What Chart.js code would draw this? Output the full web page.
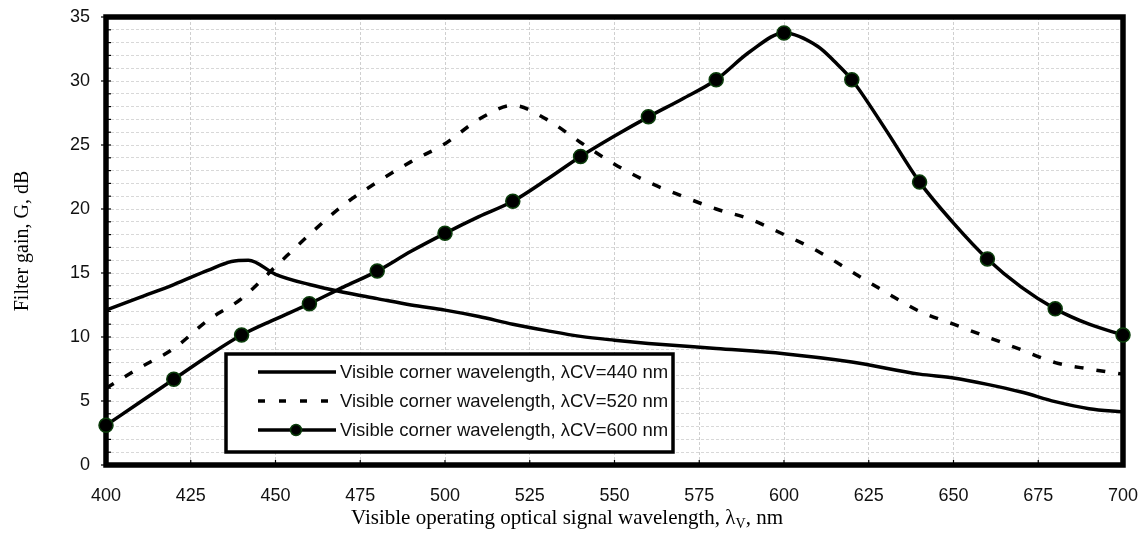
<!DOCTYPE html>
<html>
<head>
<meta charset="utf-8">
<title>Filter gain</title>
<script src="https://cdn.jsdelivr.net/npm/chart.js@4.4.0/dist/chart.umd.min.js"></script>
<style>
  html, body { margin: 0; padding: 0; background: #fff; }
  #wrap { width: 1144px; height: 547px; }
</style>
</head>
<body>
<div id="wrap"><canvas id="gain" width="1144" height="547"></canvas></div>
<script>
// wavelength axis ticks (nm) and gain axis labels (dB)
const xTicks = [400, 425, 450, 475, 500, 525, 550, 575, 600, 625, 650, 675, 700];
const yTickLabels = [0, 5, 10, 15, 20, 25, 30, 35];

// corner wavelength 440 nm
const nm440 = [400, 410, 420, 430, 437, 442, 450, 460, 470, 480, 490, 500, 510, 520, 530, 540, 550, 560, 580, 600, 620, 640, 650, 660, 670, 680, 690, 700];
const gain440 = [12.1, 13.1, 14.1, 15.2, 15.9, 16.0, 14.9, 14.1, 13.5, 13.0, 12.5, 12.1, 11.6, 11.0, 10.5, 10.05, 9.75, 9.5, 9.1, 8.7, 8.05, 7.1, 6.8, 6.3, 5.7, 4.95, 4.4, 4.15];

// corner wavelength 520 nm
const nm520 = [400, 410, 420, 430, 440, 450, 460, 470, 480, 490, 500, 510, 520, 530, 540, 550, 560, 570, 580, 590, 600, 610, 620, 630, 640, 650, 660, 670, 680, 690, 700];
const gain520 = [6.0, 7.6, 9.1, 11.3, 13.0, 15.5, 18.0, 20.3, 22.1, 23.7, 25.1, 27.0, 28.1, 27.0, 25.2, 23.5, 22.1, 21.0, 20.0, 19.2, 18.0, 16.7, 15.1, 13.5, 12.0, 11.0, 10.0, 9.0, 8.0, 7.5, 7.1];

// corner wavelength 600 nm (markers every 20 nm)
const nm600 = [400, 410, 420, 430, 440, 450, 460, 470, 480, 490, 500, 510, 520, 530, 540, 550, 560, 570, 580, 590, 600, 610, 615, 620, 630, 640, 650, 660, 670, 680, 690, 700];
const gain600 = [3.1, 4.9, 6.7, 8.5, 10.15, 11.4, 12.6, 13.9, 15.15, 16.7, 18.1, 19.4, 20.6, 22.3, 24.1, 25.7, 27.2, 28.6, 30.1, 32.3, 33.75, 32.7, 31.5, 30.1, 26.2, 22.1, 18.9, 16.1, 13.9, 12.2, 11.0, 10.15];

function pts(xs, ys) {
    return xs.map((x, i) => ({ x: x, y: ys[i] }));
}

const PLOT = { left: 106, top: 17, right: 1123, bottom: 465 };
const sans = "'Liberation Sans', Arial, sans-serif";
const serif = "'Liberation Serif', 'Times New Roman', serif";

// frame around the plot area plus the small ticks
const framePlugin = {
    id: "frame",
    beforeDatasetsDraw(chart) {
        const { ctx, chartArea: a, scales } = chart;
        ctx.save();
        ctx.strokeStyle = "#000";
        ctx.lineWidth = 1.2;
        for (let v = 1; v < 35; v++) {
            const y = scales.y.getPixelForValue(v);
            ctx.beginPath();
            ctx.moveTo(a.left, y);
            ctx.lineTo(a.left + 5, y);
            ctx.stroke();
        }
        xTicks.forEach(v => {
            const x = scales.x.getPixelForValue(v);
            ctx.beginPath();
            ctx.moveTo(x, a.bottom);
            ctx.lineTo(x, a.bottom - 5);
            ctx.stroke();
        });
        yTickLabels.forEach(v => {
            const y = scales.y.getPixelForValue(v);
            ctx.beginPath();
            ctx.moveTo(a.left - 5, y);
            ctx.lineTo(a.left, y);
            ctx.stroke();
        });
        ctx.lineWidth = 5.5;
        ctx.strokeRect(a.left, a.top, a.right - a.left, a.bottom - a.top);
        ctx.restore();
    }
};

// axis titles and the boxed legend
const annotatePlugin = {
    id: "annotate",
    afterDraw(chart) {
        const { ctx, chartArea: a } = chart;
        ctx.save();
        ctx.fillStyle = "#000";

        // x title with subscript V
        const parts = ["Visible operating optical signal wavelength, \u03bb", "V", ", nm"];
        ctx.font = "21px " + serif;
        const w0 = ctx.measureText(parts[0]).width;
        const w2 = ctx.measureText(parts[2]).width;
        ctx.font = "14px " + serif;
        const w1 = ctx.measureText(parts[1]).width;
        let x = 567 - (w0 + w1 + w2) / 2;
        const base = 524;
        ctx.textBaseline = "alphabetic";
        ctx.textAlign = "left";
        ctx.font = "21px " + serif;
        ctx.fillText(parts[0], x, base);
        x += w0;
        ctx.font = "14px " + serif;
        ctx.fillText(parts[1], x, base + 4);
        x += w1;
        ctx.font = "21px " + serif;
        ctx.fillText(parts[2], x, base);

        // y title
        ctx.save();
        ctx.translate(28, (a.top + a.bottom) / 2);
        ctx.rotate(-Math.PI / 2);
        ctx.textAlign = "center";
        ctx.font = "20px " + serif;
        ctx.fillText("Filter gain, G, dB", 0, 0);
        ctx.restore();

        // legend
        const box = { x: 226, y: 354, w: 447, h: 98 };
        ctx.fillStyle = "#fff";
        ctx.fillRect(box.x, box.y, box.w, box.h);
        ctx.strokeStyle = "#000";
        ctx.lineWidth = 3.5;
        ctx.strokeRect(box.x, box.y, box.w, box.h);

        ctx.font = "18.5px " + sans;
        ctx.textBaseline = "middle";
        chart.data.datasets.forEach((ds, i) => {
            const y = 372 + i * 29;
            ctx.save();
            ctx.strokeStyle = "#000";
            ctx.lineWidth = 3.5;
            ctx.setLineDash(ds.borderDash ? [7, 14] : []);
            ctx.beginPath();
            ctx.moveTo(258, y);
            ctx.lineTo(336, y);
            ctx.stroke();
            ctx.restore();
            if (ds.marker) {
                ctx.beginPath();
                ctx.arc(296, y, 5.5, 0, Math.PI * 2);
                ctx.fillStyle = "#000";
                ctx.fill();
                ctx.lineWidth = 1.5;
                ctx.strokeStyle = "#0b3d0b";
                ctx.stroke();
            }
            ctx.fillStyle = "#111";
            ctx.fillText(ds.label, 340, y + 1);
        });
        ctx.restore();
    }
};

const gridDash = [3, 2];

new Chart(document.getElementById("gain").getContext("2d"), {
    type: "line",
    data: {
        datasets: [
            {
                label: "Visible corner wavelength, \u03bbCV=440 nm",
                data: pts(nm440, gain440),
                borderColor: "#000",
                borderWidth: 3.5,
                pointRadius: 0,
                cubicInterpolationMode: "monotone",
                clip: false
            },
            {
                label: "Visible corner wavelength, \u03bbCV=520 nm",
                data: pts(nm520, gain520),
                borderColor: "#000",
                borderWidth: 3.5,
                borderDash: [9, 13],
                borderCapStyle: "butt",
                pointRadius: 0,
                cubicInterpolationMode: "monotone",
                clip: false
            },
            {
                label: "Visible corner wavelength, \u03bbCV=600 nm",
                data: pts(nm600, gain600),
                marker: true,
                borderColor: "#000",
                borderWidth: 3.5,
                pointRadius: c => (c.raw && c.raw.x % 20 === 0 ? 7 : 0),
                pointHoverRadius: 0,
                pointBackgroundColor: "#000",
                pointBorderColor: "#0b3d0b",
                pointBorderWidth: 1.5,
                cubicInterpolationMode: "monotone",
                clip: false
            }
        ]
    },
    options: {
        responsive: false,
        animation: false,
        events: [],
        layout: { padding: { top: PLOT.top, right: 1144 - PLOT.right, left: 0, bottom: 0 } },
        plugins: {
            legend: { display: false },
            tooltip: { enabled: false }
        },
        scales: {
            x: {
                type: "linear",
                min: 400,
                max: 700,
                afterBuildTicks: scale => { scale.ticks = xTicks.map(v => ({ value: v })); },
                afterFit: scale => {
                    scale.height = 547 - PLOT.bottom;
                    scale.paddingLeft = 0;
                    scale.paddingRight = 0;
                },
                ticks: {
                    autoSkip: false,
                    maxRotation: 0,
                    padding: 20,
                    color: "#111",
                    font: { family: sans, size: 18 }
                },
                grid: { color: "#cfcfcf", lineWidth: 1, drawTicks: false },
                border: { display: false, dash: gridDash }
            },
            y: {
                min: 0,
                max: 35,
                afterBuildTicks: scale => {
                    const t = [];
                    for (let v = 0; v <= 35; v++) t.push({ value: v });
                    scale.ticks = t;
                },
                afterFit: scale => {
                    scale.width = PLOT.left;
                    scale.paddingTop = 0;
                    scale.paddingBottom = 0;
                },
                ticks: {
                    autoSkip: false,
                    padding: 16,
                    color: "#111",
                    font: { family: sans, size: 18 },
                    callback: v => (yTickLabels.includes(v) ? String(v) : "")
                },
                grid: { color: "#d8d8d8", lineWidth: 1, drawTicks: false },
                border: { display: false, dash: gridDash }
            }
        }
    },
    plugins: [framePlugin, annotatePlugin]
});
</script>
</body>
</html>
